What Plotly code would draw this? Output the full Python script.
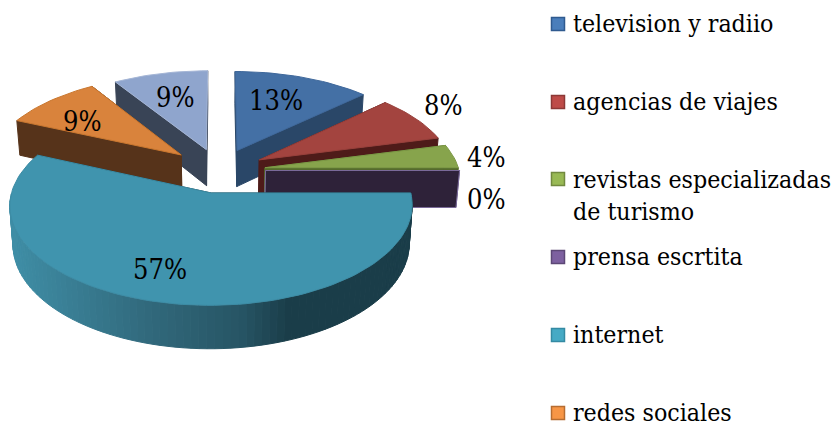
import math
import plotly.graph_objects as go

categories = ["television y radiio", "agencias de viajes",
              "revistas especializadas<br>de turismo", "prensa escrtita",
              "internet", "redes sociales", ""]
values = [13, 8, 4, 0, 56.6, 9.4, 9]
top_colors = ["#4470a5", "#a3443f", "#87a44c", "#6b4f8f", "#4094ae", "#d9833c", "#8fa5cd"]
side_colors = ["#2a4768", "#4e1b19", "#556b2c", "#2e2239", "#1a3d49", "#56331a", "#394456"]
edge_colors = ["#3f689b", "#98403b", "#7d9946", "#7a6a99", "#3d8ca5", "#c9772f", "#a5b6d6"]
legend_colors = ["#4a7ebb", "#be4b48", "#98b954", "#7d60a0", "#46aac5", "#f79646"]
legend_borders = ["#2f5a8f", "#8c3836", "#71893f", "#5c4776", "#348aa3", "#b66d31"]
draw_order = [0, 6, 5, 1, 2, 3, 4]
FONT = "DejaVu Serif Condensed"

# projection of the tilted pie
CX, CY = 219.0, 170.5
R, RK = 194.0, 93.0
P = 0.12
EXPLODE = [0.24, 0.24, 0.24, 0.24, 0.24, 0.262, 0.24]
NUDGE_X = [0, 0, 0, 0, 2, 0, 0]
DEPTH = 37.0
SHRINK = 0.985


def project(u, v, bottom=False, dx=0):
    s = 1 / (1 + P * v)
    x = CX + R * u * s
    y = CY - RK * v * s
    if bottom:
        x = CX + (x - CX) * SHRINK
        y += DEPTH * s
    return x + dx, y


def lerp_hex(stops, t):
    t = max(0.0, min(1.0, t))
    for (t0, c0), (t1, c1) in zip(stops, stops[1:]):
        if t <= t1:
            f = (t - t0) / (t1 - t0)
            a = [int(c0[i:i + 2], 16) for i in (1, 3, 5)]
            b = [int(c1[i:i + 2], 16) for i in (1, 3, 5)]
            return "#%02x%02x%02x" % tuple(round(p + (q - p) * f) for p, q in zip(a, b))
    return stops[-1][1]


WALL = [(0.0, "#3f8ea6"), (0.35, "#31697c"), (0.58, "#275565"), (0.7, "#1a3d49"), (1.0, "#1a3d49")]

fig = go.Figure()


def poly(pts, fill, line=None, width=1):
    xs = [p[0] for p in pts] + [pts[0][0]]
    ys = [p[1] for p in pts] + [pts[0][1]]
    fig.add_trace(go.Scatter(x=xs, y=ys, mode="lines", fill="toself", fillcolor=fill,
                             line=dict(color=line or fill, width=width),
                             hoverinfo="skip", showlegend=False))


total = sum(values)
starts = []
acc = 0
for v in values:
    starts.append(acc)
    acc += v

for i in draw_order:
    a0 = starts[i] / total * 2 * math.pi
    a1 = (starts[i] + values[i]) / total * 2 * math.pi
    mid = (a0 + a1) / 2
    ou, ov = EXPLODE[i] * math.sin(mid), EXPLODE[i] * math.cos(mid)
    n = max(2, int((a1 - a0) / math.radians(2)))
    angles = [a0 + (a1 - a0) * k / n for k in range(n + 1)]
    rim = [(ou + math.sin(a), ov + math.cos(a)) for a in angles]
    tip = (ou, ov)
    dx = NUDGE_X[i]

    # radial cut faces
    for end in (rim[-1], rim[0]):
        poly([project(*tip, dx=dx), project(*end, dx=dx), project(*end, True, dx), project(*tip, True, dx)],
             side_colors[i], edge_colors[i] if values[i] == 0 else None)

    # outer wall, front-facing part only
    for k in range(n):
        am = (angles[k] + angles[k + 1]) / 2
        if math.cos(am) < 0:
            p, q = rim[k], rim[k + 1]
            xm = project(*p)[0]
            color = lerp_hex(WALL, (xm - 10) / 400) if i == 4 else side_colors[i]
            poly([project(*p, dx=dx), project(*q, dx=dx), project(*q, True, dx), project(*p, True, dx)], color)

    # top face
    if values[i] > 0:
        poly([project(*tip, dx=dx)] + [project(*p, dx=dx) for p in rim], top_colors[i], edge_colors[i])

# data labels
label_pos = [(276, 100), (443, 105), (486, 157), (486, 199), (160, 269), (82, 121), (175, 97)]
annotations = []
for v, (x, y) in zip(values, label_pos):
    annotations.append(dict(x=x, y=y, text=f"{round(v)}%", showarrow=False, xanchor="center", yanchor="middle",
                            font=dict(family=FONT, size=27, color="#000000")))

# legend
legend_y = [24, 102, 179, 257, 335, 413]
for name, col, bd, y in zip(categories, legend_colors, legend_borders, legend_y):
    fig.add_trace(go.Scatter(x=[558], y=[y], mode="markers", hoverinfo="skip", showlegend=False,
                             marker=dict(symbol="square", size=13, color=col, line=dict(color=bd, width=1.5))))
    multi = "<br>" in name
    annotations.append(dict(x=571, y=y - 1 if not multi else y + 16, text=name, showarrow=False,
                            xanchor="left", yanchor="middle", align="left",
                            font=dict(family=FONT, size=24.7, color="#000000")))

fig.update_layout(
    width=835, height=423, margin=dict(l=0, r=0, t=0, b=0),
    paper_bgcolor="#ffffff", plot_bgcolor="#ffffff", showlegend=False,
    xaxis=dict(range=[0, 835], visible=False, fixedrange=True),
    yaxis=dict(range=[423, 0], visible=False, fixedrange=True),
    annotations=annotations,
)
fig.write_html("out.html", config={"displayModeBar": False},
               post_script="document.body.style.margin='0';document.documentElement.style.overflow='hidden';")
